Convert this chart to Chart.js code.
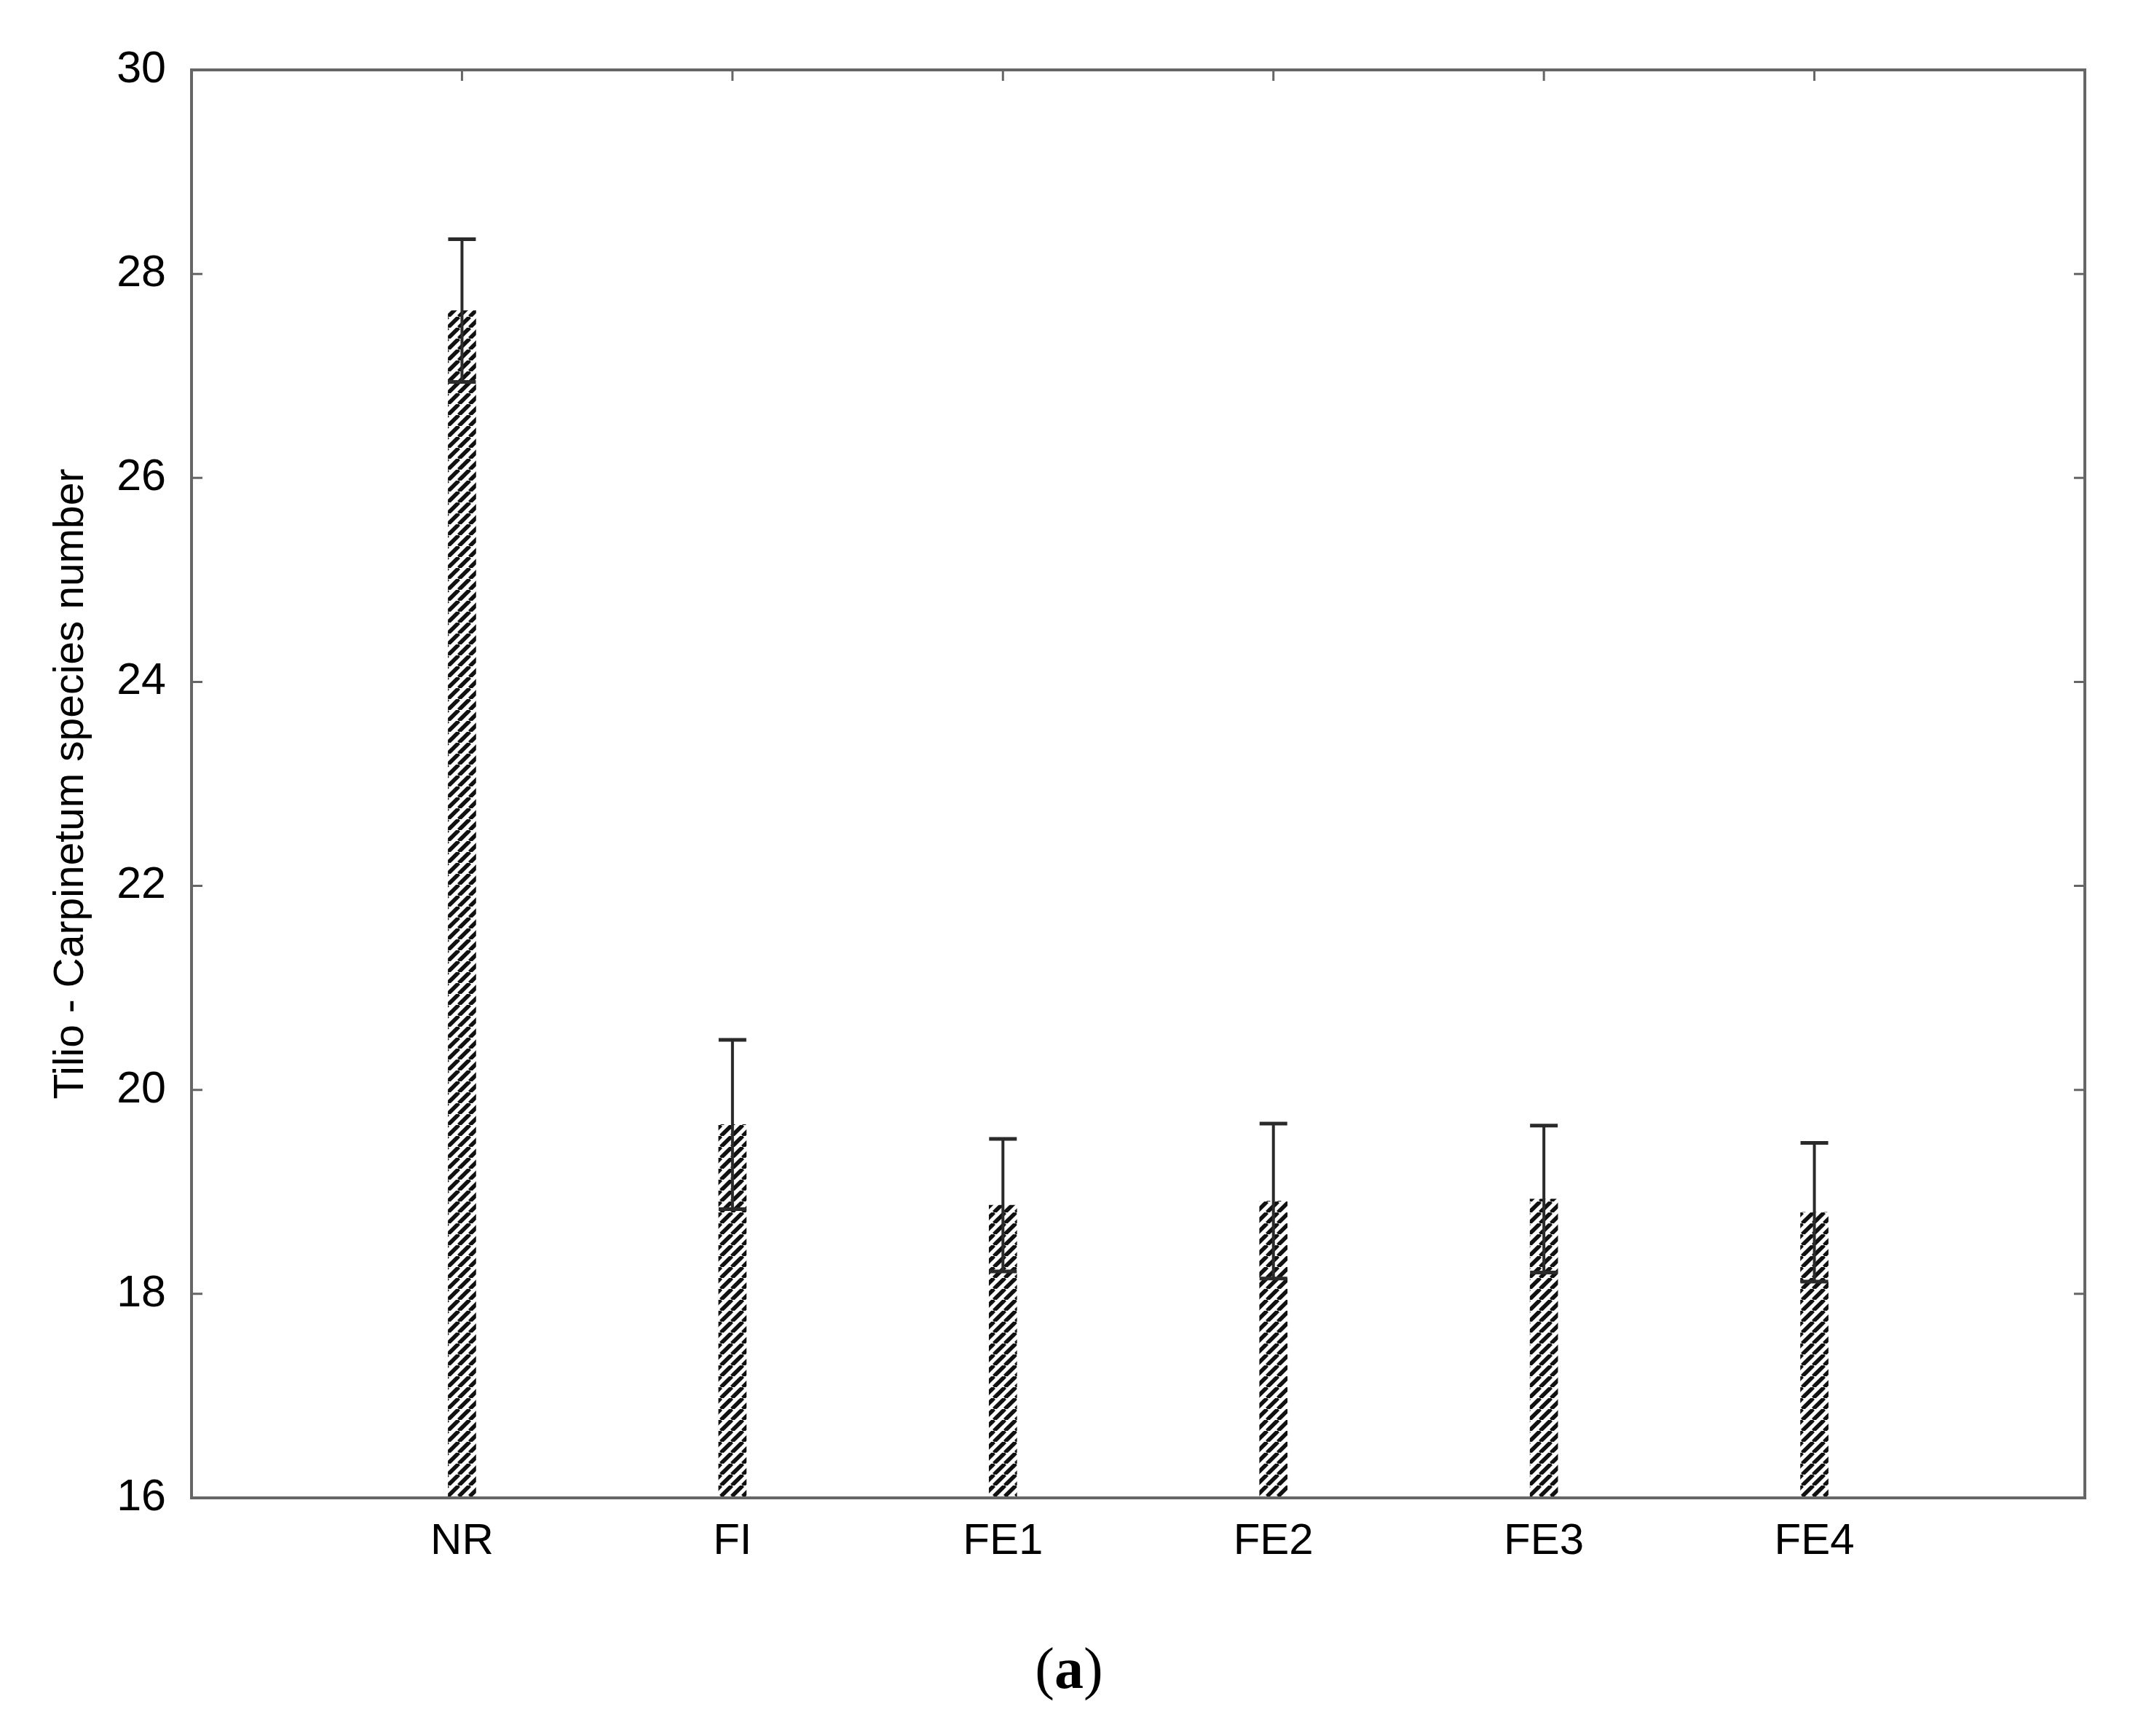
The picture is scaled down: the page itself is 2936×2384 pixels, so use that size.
<!DOCTYPE html>
<html>
<head>
<meta charset="utf-8">
<script src="https://cdn.jsdelivr.net/npm/chart.js@4/dist/chart.umd.min.js"></script>
<style>
  body { margin: 0; background: #fff; }
  canvas { display: block; }
</style>
</head>
<body>
<canvas id="speciesChart" width="2936" height="2384"></canvas>
<script>
// values
const categories = ['NR', 'FI', 'FE1', 'FE2', 'FE3', 'FE4'];
const means = [27.64, 19.66, 18.87, 18.91, 18.93, 18.80];
const errors = [0.70, 0.83, 0.65, 0.76, 0.72, 0.68];
const yTicks = [16, 18, 20, 22, 24, 26, 28, 30];

// empty slot each side, so the bars sit like in the original
const labels = [''].concat(categories, ['']);
const barData = [null].concat(means, [null]);

function makeHatch() {
  const size = 15;
  const c = document.createElement('canvas');
  c.width = size;
  c.height = size;
  const g = c.getContext('2d');
  g.fillStyle = '#fff';
  g.fillRect(0, 0, size, size);
  g.strokeStyle = '#111';
  g.lineWidth = 5.5;
  for (const off of [-size, 0, size]) {
    g.beginPath();
    g.moveTo(off, size);
    g.lineTo(off + size, 0);
    g.stroke();
  }
  return g.createPattern(c, 'repeat');
}

const framePlugin = {
  id: 'frame',
  afterDatasetsDraw(chart) {
    const ctx = chart.ctx;
    const x = chart.scales.x;
    const y = chart.scales.y;
    const barW = 38;

    // error bars
    ctx.save();
    ctx.strokeStyle = '#2a2a2a';
    for (let i = 0; i < categories.length; i++) {
      const px = x.getPixelForValue(i + 1);
      const top = y.getPixelForValue(means[i] + errors[i]);
      const bot = y.getPixelForValue(means[i] - errors[i]);
      ctx.lineWidth = 4;
      ctx.beginPath();
      ctx.moveTo(px, top);
      ctx.lineTo(px, bot);
      ctx.stroke();
      ctx.lineWidth = 5;
      ctx.beginPath();
      ctx.moveTo(px - barW / 2, top);
      ctx.lineTo(px + barW / 2, top);
      ctx.moveTo(px - barW / 2, bot);
      ctx.lineTo(px + barW / 2, bot);
      ctx.stroke();
    }
    ctx.restore();
  },
  afterDraw(chart) {
    const ctx = chart.ctx;
    const a = chart.chartArea;
    const x = chart.scales.x;
    const y = chart.scales.y;
    ctx.save();
    ctx.strokeStyle = '#666';
    ctx.lineWidth = 4;
    ctx.strokeRect(a.left, a.top, a.right - a.left, a.bottom - a.top);

    // inward ticks
    ctx.lineWidth = 3;
    ctx.beginPath();
    for (const v of yTicks) {
      const py = y.getPixelForValue(v);
      ctx.moveTo(a.left, py);
      ctx.lineTo(a.left + 15, py);
      ctx.moveTo(a.right, py);
      ctx.lineTo(a.right - 15, py);
    }
    for (let i = 0; i < categories.length; i++) {
      const px = x.getPixelForValue(i + 1);
      ctx.moveTo(px, a.top);
      ctx.lineTo(px, a.top + 15);
    }
    ctx.stroke();

    // caption (a)
    ctx.fillStyle = '#000';
    ctx.textBaseline = 'alphabetic';
    const normal = '80px "Liberation Serif"';
    const bold = 'bold 80px "Liberation Serif"';
    ctx.font = normal;
    const wp = ctx.measureText('(').width;
    const wq = ctx.measureText(')').width;
    ctx.font = bold;
    const wa = ctx.measureText('a').width;
    let cx = chart.width / 2 - (wp + wa + wq) / 2;
    const base = 2318;
    ctx.font = normal;
    ctx.fillText('(', cx, base);
    ctx.font = bold;
    ctx.fillText('a', cx + wp, base);
    ctx.font = normal;
    ctx.fillText(')', cx + wp + wa, base);
    ctx.restore();
  }
};

const ctx = document.getElementById('speciesChart').getContext('2d');
const myBarChart = new Chart(ctx, {
  type: 'bar',
  data: {
    labels: labels,
    datasets: [{
      data: barData,
      backgroundColor: makeHatch(),
      borderWidth: 0,
      barThickness: 38
    }]
  },
  options: {
    responsive: false,
    animation: false,
    devicePixelRatio: 1,
    layout: { padding: { top: 96, right: 73, left: 0, bottom: 0 } },
    plugins: {
      legend: { display: false },
      tooltip: { enabled: false }
    },
    scales: {
      x: {
        offset: false,
        grid: { display: false, drawTicks: false },
        border: { display: false },
        ticks: {
          padding: 24,
          autoSkip: false,
          maxRotation: 0,
          color: '#000',
          font: { family: '"Liberation Sans"', size: 60 }
        },
        afterFit(scale) { scale.height = 327; }
      },
      y: {
        min: 16,
        max: 30,
        grid: { display: false, drawTicks: false },
        border: { display: false },
        ticks: {
          stepSize: 2,
          padding: 35,
          color: '#000',
          font: { family: '"Liberation Sans"', size: 61 }
        },
        title: {
          display: true,
          text: 'Tilio - Carpinetum species number',
          color: '#000',
          padding: { top: 64, bottom: 0 },
          font: { family: '"Liberation Sans"', size: 57 }
        },
        afterFit(scale) { scale.width = 263; }
      }
    }
  },
  plugins: [framePlugin]
});
</script>
</body>
</html>
